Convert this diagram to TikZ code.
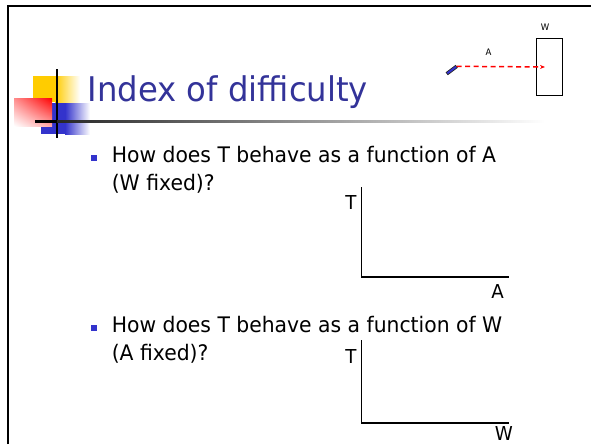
\documentclass[tikz,border=0pt]{standalone}
\usepackage{fontspec}
\setmainfont[FakeStretch=0.95]{DejaVu Sans}
\usepackage{tikz}
\usetikzlibrary{arrows.meta, positioning, shadings}
\definecolor{titleblue}{HTML}{333399}
\definecolor{bulletblue}{HTML}{3333CC}
\definecolor{logoyellow}{HTML}{FFCC00}

\begin{document}
\begin{tikzpicture}[
    x=1pt, y=-1pt,
    titletext/.style={font=\fontsize{34}{42}\selectfont, text=titleblue, inner sep=0, anchor=base west},
    bodytext/.style={font=\fontsize{21.4}{28}\selectfont, inner sep=0, anchor=base west},
    bulletsq/.style={rectangle, fill=bulletblue, minimum size=6pt, inner sep=0},
    axisline/.style={line width=1.8pt},
    axlabel/.style={font=\fontsize{19.2}{22}\selectfont, inner sep=0},
    smalllabel/.style={font=\fontsize{9}{10}\selectfont, text=black, inner sep=0},
    reach/.style={red, line width=1.5pt, dash pattern=on 5pt off 3.5pt, -{Stealth[length=5pt, width=4pt]}},
    wallbox/.style={rectangle, draw=black, line width=1pt, minimum width=26pt, minimum height=56pt, inner sep=0}
]
\useasboundingbox (0,0) rectangle (591,444);

% ============== Rahmen ==============
\draw[line width=2pt] (7.5,444) -- (7.5,6.5) -- (591,6.5);

% ============== Logo ==============
\fill[logoyellow] (33,76) rectangle (55,102);
\shade[left color=logoyellow, right color=white] (55,76) rectangle (80,102);
\fill[bulletblue] (41,103) rectangle (65,134);
\shade[left color=bulletblue, right color=white] (65,103) rectangle (90,134);
\shade[upper right=red, upper left=red!45, lower right=red!35, lower left=white] (14,98) rectangle (52,126);
\draw[line width=2.5pt] (57,69) -- (57,138);
\fill (35,120) rectangle (57,122.5);
\shade[left color=black!85, right color=white] (57,120) rectangle (545,122.5);

% ============== Titel ==============
\node[titletext] (title) at (87.5,101.7) {Index of difficulty};

% ============== Skizze oben rechts ==============
\node[wallbox] (wall) at (549,67) {};
\node[smalllabel, above=8pt of wall, xshift=-4pt] (wlabel) {W};
\coordinate (start) at (456.7,66.3);
\draw[line width=3.6pt, black!85] (start) -- ++(-10,7.5);
\draw[line width=2pt, bulletblue, shorten <=0.8pt, shorten >=0.8pt] (start) -- ++(-10,7.5);
\draw[reach] (start) -- node[smalllabel, pos=0.36, above=10pt] (alabel) {A} ([xshift=-4pt]wall.center);

% ============== Frage 1 ==============
\node[bulletsq] (bulA) at (93.8,158) {};
\node[bodytext] (qA) at (111.6,162.3) {How does T behave as a function of A};
\node[bodytext] (qAb) at ([yshift=-27.7pt]qA.base west) {(W fixed)?};

\coordinate (gAtop) at (361.5,187);
\coordinate (gAend) at (509,276.7);
\draw[axisline] (gAtop) |- (gAend);
\node[axlabel, anchor=base east] (tA) at (356.7,209) {T};
\node[axlabel, anchor=base] (xA) at (497.5,298) {A};

% ============== Frage 2 ==============
\node[bulletsq] (bulW) at (93.8,328) {};
\node[bodytext] (qW) at (111.6,332.3) {How does T behave as a function of W};
\node[bodytext] (qWb) at ([yshift=-27.7pt]qW.base west) {(A fixed)?};

\coordinate (gWtop) at (361.5,340);
\coordinate (gWend) at (509,423.3);
\draw[axisline] (gWtop) |- (gWend);
\node[axlabel, anchor=base east] (tW) at (356.7,363) {T};
\node[axlabel, anchor=base] (xW) at (504,440) {W};
\end{tikzpicture}
\end{document}
